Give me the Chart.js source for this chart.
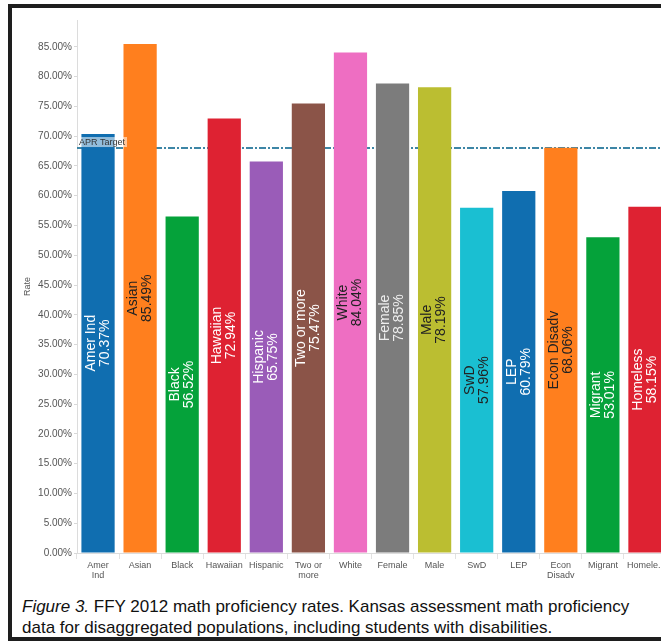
<!DOCTYPE html>
<html><head><meta charset="utf-8">
<script src="https://cdn.jsdelivr.net/npm/chart.js@4"></script>
<style>
html,body{margin:0;padding:0;overflow:hidden;background:#fff;width:661px;height:644px;}
#frame{position:absolute;left:8px;top:4px;width:720px;height:629px;border:4px solid #1e1e1e;}
#wrap{position:absolute;left:0;top:0;width:654px;height:573px;}
#cap{position:absolute;left:10px;top:588px;font:17px "Liberation Sans",Arial,sans-serif;color:#111;line-height:21px;white-space:nowrap;}
</style></head>
<body>
<div id="frame">
  <div id="wrap"><canvas id="c" width="654" height="573"></canvas></div>
  <div id="cap"><i>Figure 3.</i> FFY 2012 math proficiency rates. Kansas assessment math proficiency<br>data for disaggregated populations, including students with disabilities.</div>
</div>
<script>
const categories = ["Amer Ind","Asian","Black","Hawaiian","Hispanic","Two or more","White","Female","Male","SwD","LEP","Econ Disadv","Migrant","Homeless"];
const tickLabels = [["Amer","Ind"],"Asian","Black","Hawaiian","Hispanic",["Two or","more"],"White","Female","Male","SwD","LEP",["Econ","Disadv"],"Migrant","Homele.."];
const rates = [70.37,85.49,56.52,72.94,65.75,75.47,84.04,78.85,78.19,57.96,60.79,68.06,53.01,58.15];
const aprTarget = 68;
const aprLabel = "APR Target";
const axisTitle = "Rate";

const barColors = ["#106EB0","#FF7F1E","#05A23A","#DE2232","#9A5CB8","#8B5448","#EE6EC2","#7C7C7C","#BBBE31","#1ABFD2","#106EB0","#FF7F1E","#05A23A","#DE2232"];
const labelColors = ["#fff","#222","#fff","#fff","#fff","#fff","#222","#eee","#222","#222","#fff","#222","#fff","#fff"];

const labelPlugin = {
  id:'labels',
  beforeDatasetsDraw(chart){
    const {ctx, chartArea, scales:{y}} = chart;
    const py = y.getPixelForValue(aprTarget);
    ctx.save();
    ctx.strokeStyle = '#3d86a6'; ctx.lineWidth = 2; ctx.setLineDash([7,2,2,2]);
    ctx.beginPath(); ctx.moveTo(chartArea.left, py); ctx.lineTo(chartArea.right + 20, py); ctx.stroke();
    ctx.restore();
  },
  afterDatasetsDraw(chart){
    const {ctx, chartArea, scales:{y}} = chart;
    const meta = chart.getDatasetMeta(0);
    meta.data.forEach((bar,i)=>{
      const cx = bar.x, cy = (bar.y + bar.base)/2;
      ctx.save();
      ctx.translate(cx, cy); ctx.rotate(-Math.PI/2);
      ctx.fillStyle = labelColors[i];
      ctx.font = '14px "Liberation Sans", Arial, sans-serif';
      ctx.textAlign = 'center'; ctx.textBaseline = 'middle';
      ctx.fillText(categories[i], 0, -7);
      ctx.fillText(rates[i].toFixed(2) + '%', 0, 7);
      ctx.restore();
    });
    const py = y.getPixelForValue(aprTarget);
    ctx.save();
    ctx.font = '9px "Liberation Sans", Arial, sans-serif';
    const w = ctx.measureText(aprLabel).width;
    ctx.fillStyle = 'rgba(255,255,255,0.55)';
    ctx.fillRect(chartArea.left + 1, py - 11, w + 3, 10);
    ctx.fillStyle = '#333';
    ctx.textAlign = 'left'; ctx.textBaseline = 'bottom';
    ctx.fillText(aprLabel, chartArea.left + 2, py - 1);
    ctx.restore();
  }
};

new Chart(document.getElementById('c'), {
  type:'bar',
  data:{ labels: tickLabels, datasets:[{ data: rates, backgroundColor: barColors, borderWidth:0, categoryPercentage:1, barPercentage:0.79 }]},
  options:{
    responsive:false, animation:false, devicePixelRatio:1,
    layout:{ padding:{ top:12, left:0, right:0, bottom:0 } },
    plugins:{ legend:{display:false}, tooltip:{enabled:false} },
    scales:{
      x:{
        grid:{ drawOnChartArea:false, tickLength:6, color:'#e2e2e2' },
        border:{ color:'#dcdcdc' },
        ticks:{ autoSkip:false, maxRotation:0, padding:1, color:'#555', font:{ size:9, family:'"Liberation Sans", Arial, sans-serif', lineHeight:1.15 } },
        afterFit(s){ s.height = 28; }
      },
      y:{
        min:0, max:89.5,
        grid:{ drawOnChartArea:false, tickLength:3, color:'#d8d8d8' },
        border:{ color:'#dcdcdc' },
        ticks:{ stepSize:5, padding:2, color:'#555', font:{ size:10, family:'"Liberation Sans", Arial, sans-serif' },
          callback:(v)=> v.toFixed(2) + '%' },
        afterBuildTicks(s){ s.ticks = s.ticks.filter(t => t.value % 5 === 0); },
        title:{ display:true, text:axisTitle, color:'#555', padding:{top:10,bottom:0}, font:{ size:9, family:'"Liberation Sans", Arial, sans-serif' } },
        afterFit(s){ s.width = 65; }
      }
    }
  },
  plugins:[labelPlugin]
});
</script>
</body></html>
